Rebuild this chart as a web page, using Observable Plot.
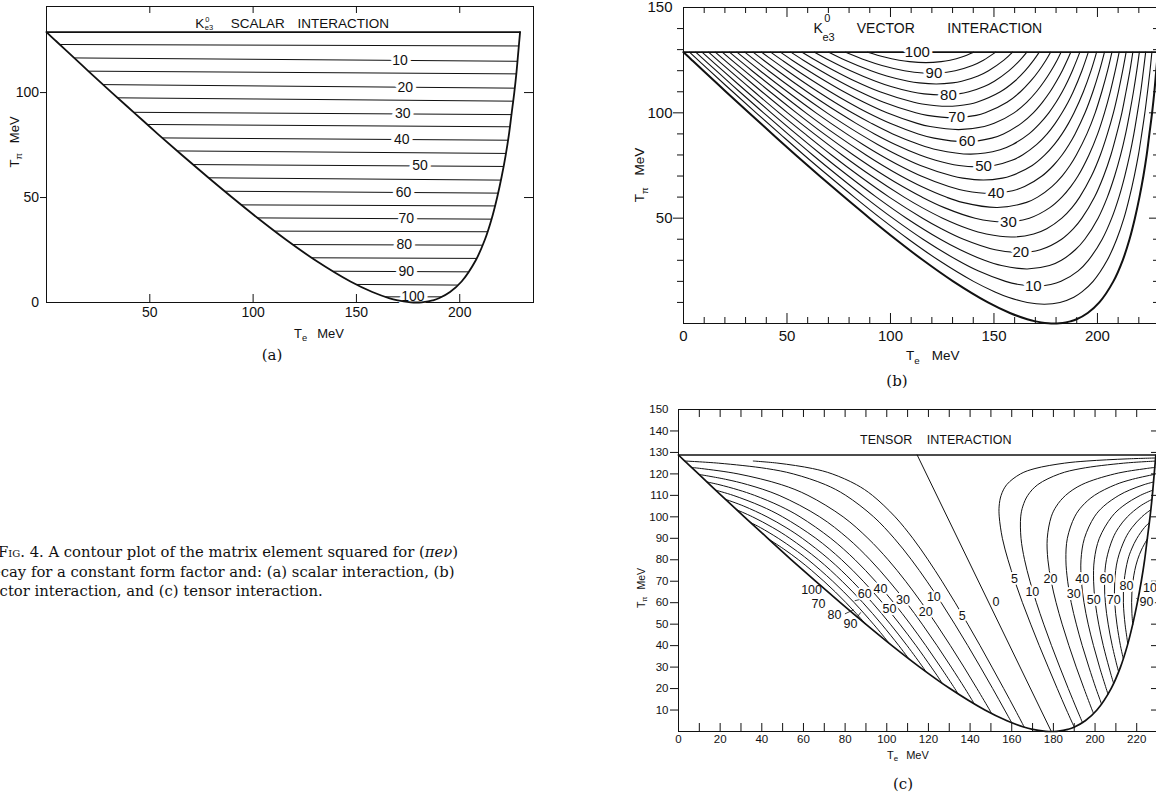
<!DOCTYPE html>
<html>
<head>
<meta charset="utf-8">
<script src="https://cdn.jsdelivr.net/npm/d3@7"></script>
<script src="https://cdn.jsdelivr.net/npm/@observablehq/plot@0.6"></script>
<style>
  html, body { margin: 0; padding: 0; }
  body { width: 1156px; height: 795px; overflow: hidden; position: relative; background: #fff; color: #111; }
  .panel { position: absolute; }
  .panel svg { display: block; max-width: none !important; overflow: visible; }
  .t { position: absolute; white-space: nowrap; line-height: 1; font-family: "Liberation Sans", Arial, sans-serif; color: #111; }
  .t sub { font-size: 0.72em; vertical-align: -0.35em; line-height: 0; }
  .serif { font-family: "DejaVu Serif", serif; }
  .cap { position: absolute; white-space: nowrap; font-family: "DejaVu Serif", serif; font-size: 14.8px; line-height: 19.5px; color: #111; }
  g[aria-label="spaced-title"] text { letter-spacing: 1.5px; }
  g[aria-label="tensor-title"] text { letter-spacing: 0.4px; }
</style>
</head>
<body>
<div id="pa" class="panel" style="left:0;top:0;width:543px"></div>
<div id="pb" class="panel" style="left:600px;top:0;width:563px"></div>
<div id="pc" class="panel" style="left:600px;top:400px;width:561px"></div>

<!-- axis titles -->
<div class="t" style="left:294px;top:333px;transform:translateY(-50%);font-size:13px">T<sub>e</sub><span style="margin-left:10px">MeV</span></div>
<div class="t" style="left:14px;top:142px;transform-origin:0 0;transform:rotate(-90deg) translate(-50%,-50%);font-size:13px">T<sub>π</sub><span style="margin-left:10px">MeV</span></div>
<div class="t" style="left:906px;top:356px;transform:translateY(-50%);font-size:13.5px">T<sub>e</sub><span style="margin-left:12px">MeV</span></div>
<div class="t" style="left:640px;top:175px;transform-origin:0 0;transform:rotate(-90deg) translate(-50%,-50%);font-size:13.5px">T<sub>π</sub><span style="margin-left:12px">MeV</span></div>
<div class="t" style="left:887px;top:755px;transform:translateY(-50%);font-size:11px">T<sub>e</sub><span style="margin-left:8px">MeV</span></div>
<div class="t" style="left:641px;top:588px;transform-origin:0 0;transform:rotate(-90deg) translate(-50%,-50%);font-size:10.5px">T<sub>π</sub><span style="margin-left:7px">MeV</span></div>

<!-- panel letters -->
<div class="t serif" style="left:272px;top:355px;transform:translate(-50%,-50%);font-size:15px">(a)</div>
<div class="t serif" style="left:897px;top:381px;transform:translate(-50%,-50%);font-size:15px">(b)</div>
<div class="t serif" style="left:903px;top:784px;transform:translate(-50%,-50%);font-size:15px">(c)</div>

<!-- caption -->
<div class="cap" style="left:-17.5px;top:542px">
  <div style="padding-left:15.5px"><span style="font-variant:small-caps">Fig.</span> 4. A contour plot of the matrix element squared for (<i>πeν</i>)</div>
  <div>decay for a constant form factor and: (a) scalar interaction, (b)</div>
  <div>vector interaction, and (c) tensor interaction.</div>
</div>

<script>
// ================= DATA =================
// Dalitz-plot boundary, [T_e, T_pi] in MeV
const boundaryLeft = [[0,128.8],[4.1,125],[9.6,120],[20.5,110],[31.6,100],[42.9,90],[54.2,80],[65.8,70],[77.7,60],[89.9,50],[102.5,40],[115.8,30],[130.3,20],[147.1,10],[157.7,5],[166.1,2],[170.1,1],[172.8,0.5],[176.3,0.1],[179,0]];
const boundaryRight = [[179,0],[181.6,0.1],[184.7,0.5],[186.9,1],[189.9,2],[195.3,5],[200.9,10],[207.7,20],[212.2,30],[215.5,40],[218.1,50],[220.3,60],[222.2,70],[223.8,80],[225.1,90],[226.4,100],[227.5,110],[228.4,120],[229.2,128.8]];
const topEdgeTe = [0, 229.2];
const topEdgeTpi = 128.8;

// (a) scalar interaction: nearly horizontal contours
const scalarLevels   = [5,10,15,20,25,30,35,40,45,50,55,60,65,70,75,80,85,90,95,100];
const scalarTpiLeft  = [122.9,116.5,110.2,103.8,97.5,90.6,84.8,78.4,72.2,65.7,59.4,53.0,46.5,40.3,34.0,27.6,21.3,14.9,8.6,2.7];
const scalarTpiRight = [122.2,114.9,108.9,102.1,95.9,89.5,83.7,77.3,71.0,64.8,58.3,52.1,46.0,39.7,33.7,27.3,21.0,14.6,8.3,2.7];
const scalarLabelLevels = [10,20,30,40,50,60,70,80,90,100];
const scalarLabelTe     = [171.1,173.6,172.4,171.9,180.8,172.8,174.1,173.1,174.1,177.3];
const scalarXTicks = [50,100,150,200];
const scalarYTicks = [50,100];

// (b) vector interaction: U-shaped contours
const vectorLevels = [5,10,15,20,25,30,35,40,45,50,55,60,65,70,75,80,85,90,95];
const vectorCurves = [
 [[2.9,128.8],[12.6,120],[23.8,110],[35.1,100],[46.6,90],[58.2,80],[70.2,70],[82.5,60],[95.2,50],[108.7,40],[123.3,30],[140.1,20],[150.5,15],[156.9,12.5],[166.1,10],[174.4,9.15],[181.9,10],[188.6,12.5],[192.5,15],[197.9,20],[204.7,30],[209.3,40],[212.8,50],[215.5,60],[217.8,70],[219.8,80],[221.4,90],[222.9,100],[224.2,110],[225.4,120],[226.3,128.8]],
 [[5.9,128.8],[15.8,120],[27.1,110],[38.7,100],[50.4,90],[62.4,80],[74.8,70],[87.6,60],[101.1,50],[115.7,40],[132.4,30],[142.3,25],[155.6,20],[162.05,18.5],[170.1,17.75],[177.45,18.5],[182.4,20],[190.7,25],[195.6,30],[202.3,40],[206.9,50],[210.4,60],[213.2,70],[215.6,80],[217.6,90],[219.3,100],[220.9,110],[222.2,120],[223.3,128.8]],
 [[8.95,128.8],[19.0,120],[30.6,110],[42.4,100],[54.4,90],[66.8,80],[79.7,70],[93.2,60],[107.7,50],[124.1,40],[133.7,35],[145.4,30],[153.65,27.5],[166.05,25.9],[176.85,27.5],[182.6,30],[189.3,35],[193.9,40],[200.3,50],[204.8,60],[208.3,70],[211.2,80],[213.6,90],[215.6,100],[217.4,110],[219.0,120],[220.25,128.8]],
 [[12.1,128.8],[22.3,120],[34.2,110],[46.2,100],[58.7,90],[71.5,80],[85.0,70],[99.4,60],[115.5,50],[124.6,45],[135.3,40],[150.6,35],[162.2,33.65],[172.4,35],[182.7,40],[188.4,45],[192.5,50],[198.6,60],[203.0,70],[206.5,80],[209.3,90],[211.8,100],[213.8,110],[215.7,120],[217.1,128.8]],
 [[15.35,128.8],[25.8,120],[37.9,110],[50.3,100],[63.2,90],[76.6,80],[90.9,70],[106.6,60],[115.3,55],[125.2,50],[137.5,45],[146.3,42.5],[158.5,41.05],[169.2,42.5],[175.5,45],[182.8,50],[187.7,55],[191.4,60],[197.1,70],[201.4,80],[204.8,90],[207.7,100],[210.1,110],[212.2,120],[213.85,128.8]],
 [[18.7,128.8],[29.4,120],[41.8,110],[54.6,100],[67.9,90],[82.1,80],[97.4,70],[105.9,65],[115.2,60],[126.0,55],[140.9,50],[154.9,48.2],[167.1,50],[177.0,55],[182.8,60],[187.1,65],[190.6,70],[195.9,80],[200.1,90],[203.4,100],[206.2,110],[208.6,120],[210.5,128.8]],
 [[22.2,128.8],[33.1,120],[45.9,110],[59.1,100],[73.1,90],[88.2,80],[96.3,75],[105.1,70],[115.0,65],[126.9,60],[134.75,57.5],[151.5,55.05],[165.75,57.5],[171.1,60],[178.0,65],[182.9,70],[186.7,75],[189.8,80],[194.9,90],[198.9,100],[202.1,110],[204.9,120],[207.0,128.8]],
 [[25.8,128.8],[37.0,120],[50.2,110],[64.0,100],[78.8,90],[86.7,85],[95.1,80],[104.3,75],[114.8,70],[128.2,65],[136.0,63],[148.15,61.7],[159.0,63],[164.8,65],[173.2,70],[178.7,75],[182.9,80],[186.3,85],[189.2,90],[194.0,100],[197.8,110],[201.0,120],[203.4,128.8]],
 [[29.6,128.8],[41.1,120],[54.8,110],[69.3,100],[77.0,95],[85.1,90],[93.8,85],[103.4,80],[114.5,75],[130.0,70],[134.9,69],[144.95,68.1],[154.1,69],[158.0,70],[168.5,75],[174.6,80],[179.2,85],[182.9,90],[186.0,95],[188.7,100],[193.2,110],[196.9,120],[199.6,128.8]],
 [[33.6,128.8],[45.5,120],[59.7,110],[67.2,105],[75.1,100],[83.4,95],[92.3,90],[102.3,85],[114.2,80],[121.8,77.5],[133.1,75],[141.8,74.35],[149.9,75],[158.7,77.5],[163.8,80],[170.7,85],[175.7,90],[179.6,95],[182.9,100],[185.8,105],[188.3,110],[192.5,120],[195.6,128.8]],
 [[37.7,128.8],[43.0,125],[50.1,120],[57.4,115],[65.0,110],[73.0,105],[81.5,100],[90.8,95],[101.1,90],[113.9,85],[122.5,82.5],[138.8,80.4],[153.0,82.5],[159.1,85],[166.9,90],[172.2,95],[176.5,100],[180.0,105],[183.0,110],[185.6,115],[187.9,120],[190.0,125],[191.5,128.8]],
 [[42.1,128.8],[47.6,125],[55.0,120],[62.8,115],[70.9,110],[79.6,105],[89.0,100],[99.8,95],[113.4,90],[121.05,88],[135.85,86.3],[148.95,88],[154.6,90],[163.2,95],[169.0,100],[173.4,105],[177.1,110],[180.2,115],[183.0,120],[185.4,125],[187.1,128.8]],
 [[46.8,128.8],[52.5,125],[60.4,120],[68.7,115],[77.5,110],[87.2,105],[98.3,100],[112.9,95],[119.15,93.5],[132.95,92.05],[145.35,93.5],[150.1,95],[159.7,100],[165.8,105],[170.5,110],[174.3,115],[177.6,120],[180.5,125],[182.4,128.8]],
 [[51.85,128.8],[57.9,125],[66.3,120],[75.3,115],[85.2,110],[96.7,105],[112.2,100],[117.8,98.8],[130.2,97.65],[141.4,98.8],[145.8,100],[156.3,105],[162.8,110],[167.7,115],[171.7,120],[175.1,125],[177.35,128.8]],
 [[57.3,128.8],[63.8,125],[72.9,120],[83.0,115],[94.9,110],[111.3,105],[115.3,104.2],[127.45,103.1],[138.5,104.2],[141.7,105],[153.1,110],[160.0,115],[165.1,120],[169.2,125],[171.9,128.8]],
 [[63.3,128.8],[70.4,125],[80.7,120],[92.8,115],[100.25,112.5],[110.1,110],[116.25,109],[124.8,108.45],[132.75,109],[137.9,110],[145.25,112.5],[150.2,115],[157.3,120],[162.6,125],[165.9,128.8]],
 [[70.2,128.8],[78.2,125],[90.6,120],[98.2,117.5],[108.6,115],[113.9,114.2],[122.15,113.7],[129.9,114.2],[134.4,115],[142.3,117.5],[147.4,120],[154.8,125],[159.0,128.8]],
 [[78.35,128.8],[88.1,125],[95.9,122.5],[106.7,120],[111.5,119.3],[119.6,118.85],[127.2,119.3],[131.3,120],[139.6,122.5],[144.9,125],[150.85,128.8]],
 [[89.0,128.8],[97.05,126.5],[104.2,125],[109.2,124.3],[117.1,123.85],[124.5,124.3],[128.8,125],[134.45,126.5],[140.2,128.8]]
];
const vectorLabelText = ["100","90","80","70","60","50","40","30","20","10"];
const vectorLabelTe   = [113,121,128,132,137,145,151,157,163,169];
const vectorLabelTpi  = [128.8,118.9,108.5,97.8,86.5,74.6,62,48.3,33.7,17.9];
const vectorXMajor = [50,100,150,200];
const vectorXMinor = [10,20,30,40,60,70,80,90,110,120,130,140,160,170,180,190,210,220];
const vectorXLabels = [0,50,100,150,200];
const vectorYMajor = [50,100];
const vectorYMinor = [10,20,30,40,60,70,80,90,110,120,130,140];
const vectorYLabels = [50,100,150];

// (c) tensor interaction: branches left and right of the zero line
const tensorLevels = [5,10,20,30,40,50,60,70,80,90];
const tensorLeft = [
 [[35.9,126],[47.75,125],[64.35,122.5],[73.8,120],[85.4,115],[93.1,110],[104,100],[112.5,90],[119.8,80],[126.5,70],[132.85,60],[138.9,50],[144.8,40],[150.5,30],[156.15,20],[161.7,10],[166.0,2.05]],
 [[3.1,126],[19.25,125],[42.25,122.5],[55.1,120],[70.5,115],[80.3,110],[93.7,100],[103.55,90],[111.85,80],[119.25,70],[126.15,60],[132.65,50],[138.9,40],[144.95,30],[150.85,20],[156.6,10],[160.0,4.08]],
 [[6.3,123],[10.95,122.5],[28.6,120],[49.35,115],[62.15,110],[79.05,100],[90.95,90],[100.65,80],[109.05,70],[116.7,60],[123.8,50],[130.55,40],[137.05,30],[143.3,20],[149.4,10],[150.4,8.31]],
 [[9.8,119.76],[22.55,117.5],[33.15,115],[48.3,110],[67.8,100],[81.3,90],[92,80],[101.15,70],[109.45,60],[117,50],[124.15,40],[130.95,30],[137.55,20],[140.7,15],[142.1,12.76]],
 [[13.7,116.24],[19.45,115],[28.85,112.5],[36.55,110],[48.8,105],[58.35,100],[73.1,90],[84.75,80],[94.55,70],[103.3,60],[111.3,50],[118.75,40],[125.85,30],[132.65,20],[134.3,17.44]],
 [[17.9,112.4],[26.25,110],[39.65,105],[50,100],[65.95,90],[78.35,80],[88.7,70],[97.9,60],[106.25,50],[114.05,40],[121.35,30],[124.9,25],[126.6,22.44]],
 [[22.6,108.15],[31.35,105],[42.5,100],[51.65,95],[59.45,90],[72.55,80],[83.45,70],[93.05,60],[101.7,50],[109.75,40],[117.3,30],[118.8,27.87]],
 [[28.0,103.26],[35.55,100],[45.25,95],[53.45,90],[67.2,80],[78.55,70],[88.55,60],[97.5,50],[105.8,40],[109.7,35],[110.55,33.9]],
 [[34.6,97.36],[39.3,95],[47.9,90],[55.45,85],[62.25,80],[74.05,70],[84.4,60],[93.6,50],[97.9,45],[101.3,40.91]],
 [[43.2,89.67],[50.55,85],[57.6,80],[63.95,75],[69.8,70],[75.3,65],[80.45,60],[85.3,55],[90.1,49.77]]
];
const tensorRight = [
 [[229.1,127.41],[215.4,127],[196.1,126],[185.25,125],[171.15,122.5],[164.2,120],[157.6,115],[154.9,110],[153.95,105],[154,100],[155.5,90],[158.2,80],[161.5,70],[165.15,60],[169.1,50],[173.2,40],[177.5,30],[181.85,20],[186.3,10],[190.0,2.05]],
 [[229.0,125.97],[213.75,125],[193.25,122.5],[182.9,120],[172.5,115],[167.7,110],[165.35,105],[164.3,100],[164.45,90],[166.15,80],[168.75,70],[171.85,60],[175.35,50],[179.1,40],[183.05,30],[187.15,20],[191.4,10],[194.0,4.08]],
 [[228.7,123],[224.55,122.5],[209.4,120],[193.65,115],[185.85,110],[181.45,105],[178.95,100],[177.05,90],[177.35,80],[178.95,70],[181.3,60],[184.2,50],[187.45,40],[190.95,30],[194.7,20],[198.6,10],[199.3,8.31]],
 [[228.4,119.76],[217.95,117.5],[209.85,115],[199.7,110],[193.8,105],[190.2,100],[186.7,90],[186,80],[186.85,70],[188.55,60],[191,50],[193.85,40],[197.05,30],[200.45,20],[202.3,15],[203.1,12.76]],
 [[228.1,116.24],[223.55,115],[216.65,112.5],[211.45,110],[204.2,105],[199.65,100],[194.9,90],[193.25,80],[193.45,70],[194.7,60],[196.7,50],[199.25,40],[202.15,30],[205.35,20],[206.2,17.44]],
 [[227.7,112.4],[221.75,110],[213.35,105],[208,100],[202.05,90],[199.65,80],[199.3,70],[200.1,60],[201.75,50],[203.95,40],[206.65,30],[208.1,25],[208.9,22.44]],
 [[227.3,108.15],[221.65,105],[215.5,100],[211.35,95],[208.55,90],[205.45,80],[204.55,70],[204.95,60],[206.3,50],[208.25,40],[210.7,30],[211.3,27.87]],
 [[226.7,103.26],[222.45,100],[217.75,95],[214.55,90],[210.8,80],[209.45,70],[209.45,60],[210.5,50],[212.2,40],[213.3,35],[213.55,33.9]],
 [[226.1,97.36],[223.7,95],[220.1,90],[217.55,85],[215.75,80],[213.95,70],[213.6,60],[214.4,50],[215.1,45],[215.7,40.91]],
 [[225.1,89.67],[222.45,85],[220.4,80],[219.05,75],[218.2,70],[217.7,65],[217.55,60],[217.7,55],[218.1,49.77]]
];
const tensorZeroLine = [[114.6,128.8],[179,0]];
const tensorLabelText = ["100","70","80","90","60","40","50","30","20","10","5","0","5","10","20","30","40","50","60","70","80","90","100"];
const tensorLabelTe   = [63.9,67.2,74.9,82.6,89.4,97.0,101.3,107.8,118.7,122.6,136.2,152.4,161.3,169.9,178.6,189.8,193.8,199.4,205.5,209.0,215.1,224.7,228.0];
const tensorLabelTpi  = [66.0,59.4,54.3,50.0,64.1,66.4,57.1,61.4,55.5,62.5,54.0,60.2,71.1,64.9,71.2,64.1,71.2,61.2,71.2,61.2,68.0,60.4,66.8];
const tensorLeaders = [[79.9,54.8,84.1,56.7],[85.8,53.2,87.5,55.5],[84.6,60.9,87.5,61.6],[219.8,62.2,222.6,59.4]];
const tensorXLabels = [0,20,40,60,80,100,120,140,160,180,200,220];
const tensorXTicks  = [10,20,30,40,50,60,70,80,90,100,110,120,130,140,150,160,170,180,190,200,210,220];
const tensorYLabels = [10,20,30,40,50,60,70,80,90,100,110,120,130,140,150];
const tensorYTicks  = [10,20,30,40,50,60,70,80,90,100,110,120,130,140];

// ================= helpers =================
const INK = "#111";
const SANS = "Liberation Sans, Arial, Helvetica, sans-serif";
const boundaryAll = boundaryLeft.concat(boundaryRight.slice(1));
const topEdge = topEdgeTe.map(x => [x, topEdgeTpi]);

function teOnBranch(branch, tpi) {
  for (let i = 0; i < branch.length - 1; i++) {
    const [x0, y0] = branch[i], [x1, y1] = branch[i + 1];
    if (y0 !== y1 && (tpi - y0) * (tpi - y1) <= 0) return x0 + (x1 - x0) * (tpi - y0) / (y1 - y0);
  }
  return branch[branch.length - 1][0];
}
function hTicks(values, y0, len, sw = 1) {
  return Plot.ruleX(values, {x: d => d, y1: y0, y2: y0 + len, stroke: INK, strokeWidth: sw});
}
function vTicks(values, x0, len, sw = 1) {
  return Plot.ruleY(values, {y: d => d, x1: x0, x2: x0 + len, stroke: INK, strokeWidth: sw});
}
function flatten(curves, levels, side) {
  return curves.flatMap((pts, i) => pts.map(([x, y]) => ({x, y, key: side + levels[i]})));
}
const baseStyle = {fontFamily: SANS, color: INK, background: "white", maxWidth: "none", overflow: "visible"};

// ================= panel (a) =================
{
  const P = {w: 543, h: 342, ml: 46, mr: 10, mt: 6, mb: 40, xmax: 235.7, ymax: 141};
  const kx = (P.w - P.ml - P.mr) / P.xmax, ky = (P.h - P.mt - P.mb) / P.ymax;
  const lines = scalarLevels.map((v, i) => {
    const yl = scalarTpiLeft[i], yr = scalarTpiRight[i];
    return {level: v, x1: teOnBranch(boundaryLeft, yl), y1: yl, x2: teOnBranch(boundaryRight, yr), y2: yr};
  });
  const labels = scalarLabelLevels.map((v, i) => {
    const L = lines.find(d => d.level === v);
    const x = scalarLabelTe[i];
    return {x, y: L.y1 + (L.y2 - L.y1) * (x - L.x1) / (L.x2 - L.x1), text: String(v)};
  });
  const plot = Plot.plot({
    width: P.w, height: P.h, marginLeft: P.ml, marginRight: P.mr, marginTop: P.mt, marginBottom: P.mb,
    x: {domain: [0, P.xmax]}, y: {domain: [0, P.ymax]},
    style: baseStyle,
    marks: [
      Plot.frame({stroke: INK, strokeWidth: 1}),
      Plot.axisX({ticks: scalarXTicks, tickSize: 0, tickPadding: 5, fontSize: 14, label: null}),
      Plot.axisY({ticks: scalarYTicks.concat([0]), tickSize: 0, tickPadding: 7.5, fontSize: 14, label: null}),
      hTicks(scalarXTicks, 0, 8 / ky),
      hTicks(scalarXTicks, P.ymax, -7 / ky),
      vTicks(scalarYTicks, 0, -6 / kx),
      vTicks(scalarYTicks, P.xmax, -9 / kx),
      Plot.link(lines, {x1: "x1", y1: "y1", x2: "x2", y2: "y2", stroke: INK, strokeWidth: 1}),
      Plot.text(labels, {x: "x", y: "y", text: "text", fontSize: 14, fill: INK, stroke: "white", strokeWidth: 7, paintOrder: "stroke"}),
      Plot.line(topEdge, {x: d => d[0], y: d => d[1], stroke: INK, strokeWidth: 1.6}),
      Plot.line(boundaryAll, {x: d => d[0], y: d => d[1], curve: "catmull-rom", stroke: INK, strokeWidth: 1.8}),
      Plot.text(["K"], {x: 72.05, y: 132.9, textAnchor: "start", fontSize: 13.5, fill: INK}),
      Plot.text(["0"], {x: 76.8, y: 134.6, textAnchor: "start", fontSize: 7.5, fill: INK}),
      Plot.text(["e3"], {x: 76.6, y: 131.0, textAnchor: "start", fontSize: 7.5, fill: INK}),
      Plot.text(["SCALAR"], {x: 89.2, y: 132.9, textAnchor: "start", fontSize: 13.5, fill: INK}),
      Plot.text(["INTERACTION"], {x: 165.8, y: 132.9, textAnchor: "end", fontSize: 13.5, fill: INK})
    ]
  });
  document.getElementById("pa").append(plot);
}

// ================= panel (b) =================
{
  const P = {w: 563, h: 363, ml: 83, mr: 5, mt: 7, mb: 40, xmax: 229.5, ymax: 150};
  const kx = (P.w - P.ml - P.mr) / P.xmax, ky = (P.h - P.mt - P.mb) / P.ymax;
  const labels = vectorLabelText.map((t, i) => ({text: t, x: vectorLabelTe[i], y: vectorLabelTpi[i]}));
  const plot = Plot.plot({
    width: P.w, height: P.h, marginLeft: P.ml, marginRight: P.mr, marginTop: P.mt, marginBottom: P.mb,
    x: {domain: [0, P.xmax]}, y: {domain: [0, P.ymax]},
    style: baseStyle,
    marks: [
      Plot.frame({stroke: INK, strokeWidth: 1}),
      Plot.axisX({ticks: vectorXLabels, tickSize: 0, tickPadding: 7, fontSize: 15, label: null}),
      Plot.axisY({ticks: vectorYLabels, tickSize: 0, tickPadding: 11, fontSize: 15, label: null}),
      hTicks(vectorXMajor, 0, 10 / ky), hTicks(vectorXMinor, 0, 6 / ky),
      hTicks(vectorXMajor, P.ymax, -10 / ky), hTicks(vectorXMinor, P.ymax, -6 / ky),
      vTicks(vectorYMajor, 0, -10 / kx), vTicks(vectorYMinor, 0, -6 / kx),
      vTicks(vectorYMajor, P.xmax, -9 / kx), vTicks(vectorYMinor, P.xmax, -5 / kx),
      Plot.line(flatten(vectorCurves, vectorLevels, "v"), {x: "x", y: "y", z: "key", curve: "catmull-rom", stroke: INK, strokeWidth: 1.1}),
      Plot.line(topEdge, {x: d => d[0], y: d => d[1], stroke: INK, strokeWidth: 1.6}),
      Plot.line(boundaryAll, {x: d => d[0], y: d => d[1], curve: "catmull-rom", stroke: INK, strokeWidth: 2}),
      Plot.text(labels, {x: "x", y: "y", text: "text", fontSize: 15, fill: INK, stroke: "white", strokeWidth: 6, paintOrder: "stroke"}),
      Plot.text(["K"], {x: 62.85, y: 140.1, textAnchor: "start", fontSize: 14, fill: INK}),
      Plot.text(["0"], {x: 68.0, y: 144.6, textAnchor: "start", fontSize: 11, fill: INK}),
      Plot.text(["e3"], {x: 67.1, y: 135.9, textAnchor: "start", fontSize: 11, fill: INK}),
      Plot.text(["VECTOR"], {x: 83.7, y: 140.2, textAnchor: "start", fontSize: 14, fill: INK, ariaLabel: "spaced-title"}),
      Plot.text(["INTERACTION"], {x: 173.3, y: 140.2, textAnchor: "end", fontSize: 14, fill: INK, ariaLabel: "spaced-title"})
    ]
  });
  document.getElementById("pb").append(plot);
}

// ================= panel (c) =================
{
  const P = {w: 561, h: 361, ml: 78, mr: 5, mt: 9, mb: 30, xmax: 229.5, ymax: 150};
  const kx = (P.w - P.ml - P.mr) / P.xmax, ky = (P.h - P.mt - P.mb) / P.ymax;
  const labels = tensorLabelText.map((t, i) => ({text: t, x: tensorLabelTe[i], y: tensorLabelTpi[i]}));
  const leaders = tensorLeaders.map(([x1, y1, x2, y2]) => ({x1, y1, x2, y2}));
  const plot = Plot.plot({
    width: P.w, height: P.h, marginLeft: P.ml, marginRight: P.mr, marginTop: P.mt, marginBottom: P.mb,
    x: {domain: [0, P.xmax]}, y: {domain: [0, P.ymax]},
    style: baseStyle,
    marks: [
      Plot.frame({stroke: INK, strokeWidth: 1}),
      Plot.axisX({ticks: tensorXLabels, tickSize: 0, tickPadding: 3.5, fontSize: 11.5, label: null}),
      Plot.axisY({ticks: tensorYLabels, tickSize: 0, tickPadding: 10, fontSize: 11.5, label: null}),
      hTicks(tensorXTicks, 0, 8 / ky), hTicks(tensorXTicks, P.ymax, -8 / ky),
      vTicks(tensorYTicks, 0, -8 / kx), vTicks(tensorYTicks, P.xmax, -5 / kx),
      Plot.line(flatten(tensorLeft, tensorLevels, "L").concat(flatten(tensorRight, tensorLevels, "R")),
        {x: "x", y: "y", z: "key", curve: "catmull-rom", stroke: INK, strokeWidth: 1}),
      Plot.line(tensorZeroLine, {x: d => d[0], y: d => d[1], stroke: INK, strokeWidth: 1}),
      Plot.link(leaders, {x1: "x1", y1: "y1", x2: "x2", y2: "y2", stroke: INK, strokeWidth: 0.8}),
      Plot.text(labels, {x: "x", y: "y", text: "text", fontSize: 12.5, fill: INK, stroke: "white", strokeWidth: 4, paintOrder: "stroke"}),
      Plot.line([[0, topEdgeTpi], [P.xmax, topEdgeTpi]], {x: d => d[0], y: d => d[1], stroke: INK, strokeWidth: 1.6}),
      Plot.line(boundaryAll, {x: d => d[0], y: d => d[1], curve: "catmull-rom", stroke: INK, strokeWidth: 1.7}),
      Plot.text(["TENSOR"], {x: 87.2, y: 136, textAnchor: "start", fontSize: 12.5, fill: INK, ariaLabel: "tensor-title"}),
      Plot.text(["INTERACTION"], {x: 159.9, y: 136, textAnchor: "end", fontSize: 12.5, fill: INK, ariaLabel: "tensor-title"})
    ]
  });
  document.getElementById("pc").append(plot);
}
</script>
</body>
</html>
